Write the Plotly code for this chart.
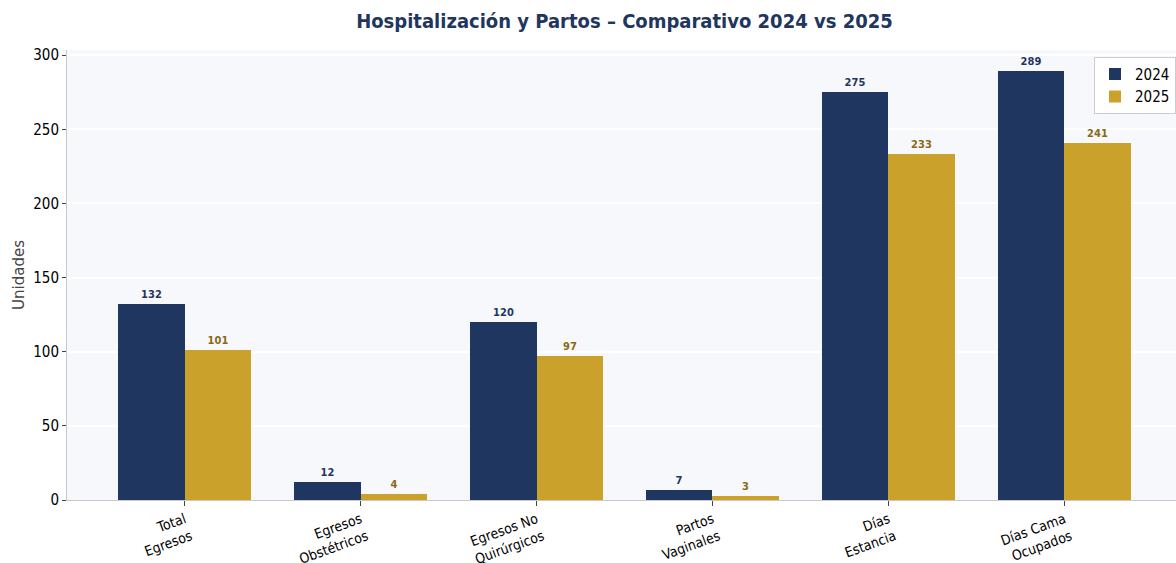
import plotly.graph_objects as go

categories = ["Total<br>Egresos", "Egresos<br>Obstétricos", "Egresos No<br>Quirúrgicos",
              "Partos<br>Vaginales", "Días<br>Estancia", "Días Cama<br>Ocupados"]
values_2024 = [132, 12, 120, 7, 275, 289]
values_2025 = [101, 4, 97, 3, 233, 241]
y_ticks = [0, 50, 100, 150, 200, 250, 300]

NAVY = "#1f3660"
GOLD = "#c9a12b"
FONT = "DejaVu Sans Condensed, DejaVu Sans, sans-serif"

xpos = list(range(len(categories)))
w = 0.38

fig = go.Figure()
fig.add_trace(go.Bar(
    x=[p - w / 2 for p in xpos], y=values_2024, width=w, name="2024",
    marker=dict(color=NAVY, line=dict(width=0)),
    text=[str(v) for v in values_2024], textposition="outside",
    textfont=dict(family=FONT, size=11, color=NAVY, weight="bold"),
    cliponaxis=False,
))
fig.add_trace(go.Bar(
    x=[p + w / 2 for p in xpos], y=values_2025, width=w, name="2025",
    marker=dict(color=GOLD, line=dict(width=0)),
    text=[str(v) for v in values_2025], textposition="outside",
    textfont=dict(family=FONT, size=11, color="#8b6914", weight="bold"),
    cliponaxis=False,
))

fig.update_layout(
    width=1176, height=563,
    margin=dict(l=67, r=0, t=50, b=63),
    paper_bgcolor="white",
    plot_bgcolor="#f7f8fc",
    font=dict(family=FONT, size=14, color="black"),
    title=dict(text="<b>Hospitalización y Partos – Comparativo 2024 vs 2025</b>",
               x=0.531, xanchor="center", y=0.962, yanchor="middle",
               font=dict(family=FONT, size=20, color=NAVY)),
    barmode="overlay",
    showlegend=True,
    legend=dict(x=1, xanchor="right", y=0.985, yanchor="top",
                bgcolor="white", bordercolor="#cccccc", borderwidth=1,
                font=dict(family=FONT, size=15, color="black"),
                itemwidth=30),
    bargap=0,
)
fig.update_xaxes(
    tickmode="array", tickvals=xpos, ticktext=categories,
    range=[-0.668, 5.634], tickangle=-20, automargin=False,
    showgrid=False, zeroline=False,
    showline=True, linecolor="#c8c8c8", linewidth=1,
    ticks="outside", ticklen=5, tickcolor="#444444",
    tickfont=dict(family=FONT, size=14, color="black"),
)
fig.update_yaxes(
    range=[0, 303.45], tickmode="array", tickvals=y_ticks, automargin=False,
    showgrid=True, gridcolor="white", gridwidth=1.5, zeroline=False,
    showline=True, linecolor="#c8c8c8", linewidth=1,
    ticks="outside", ticklen=4, tickcolor="#444444",
    tickfont=dict(family=FONT, size=15, color="black"),
    title=dict(text="Unidades", font=dict(family="DejaVu Sans", size=15, color="#444444"), standoff=4),
)

fig.write_html("out.html", config={"displayModeBar": False},
               post_script="document.body.style.margin='0';")
